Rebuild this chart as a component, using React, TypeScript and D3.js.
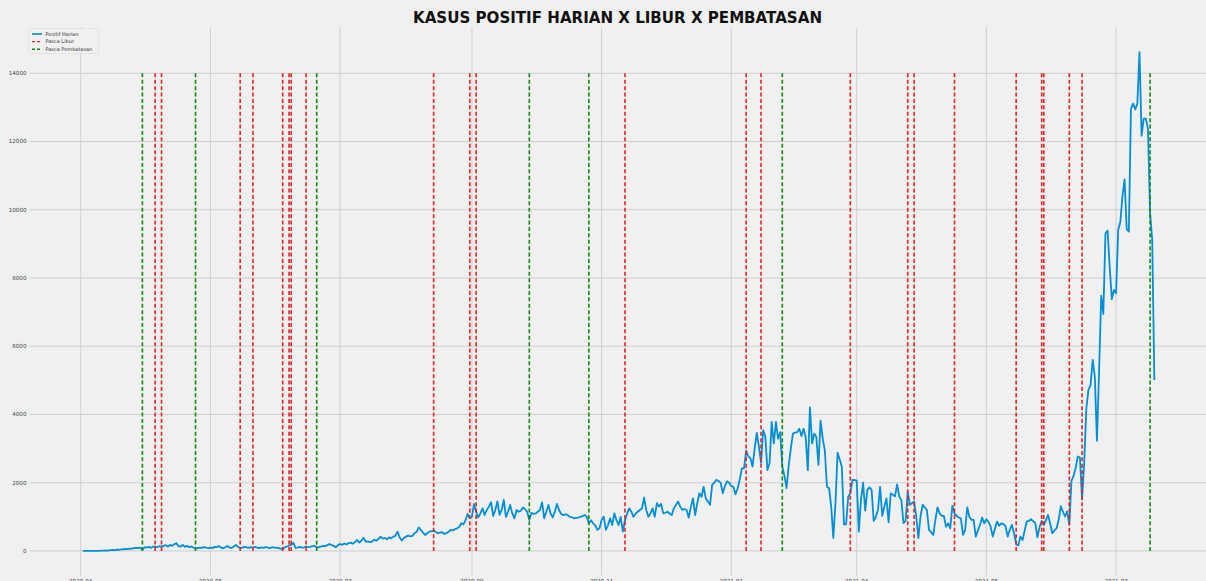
import React from "react";
import * as d3 from "d3";

const W = 1206;
const H = 581;

// Daily positive cases, one array per month
const mar2020 = [0,0,0,0,0,2,0,3,5,8,10,15,12,25,30,20,40,35,45,50,60,55,70,65,80,90,85,95,30,110];
const apr2020 = [100,120,90,130,125,110,140,126,150,170,130,176,150,200,225,140,130,176,120,150,110,130,100,85,80,100,90,110,95,85];
const may2020 = [100,85,120,110,146,95,78,110,146,100,88,130,176,120,78,100,120,107,90,110,95,120,100,85,105,90,115,100,80,110,98];
const jun2020 = [100,85,70,50,110,130,160,180,240,90,100,120,95,107,130,115,120,140,146,110,107,130,150,140,170,204,170,150,107,170];
const jul2020 = [204,180,220,190,230,244,210,260,322,244,300,390,273,280,260,273,330,300,350,420,360,380,342,400,370,420,440,566,400,303,380];
const aug2020 = [420,450,430,440,520,560,693,615,540,469,520,566,580,596,560,520,537,550,498,520,560,615,600,640,664,700,811,780,900,1084,957];
const sep2020 = [1000,1377,1150,986,1100,1250,1055,1200,1300,1427,1025,1200,1455,1055,1200,1494,1000,1150,1348,1100,957,1200,1150,1180,1270,1230,1150,908,1120,1084];
const oct2020 = [1100,1150,1200,1426,957,1150,1348,1100,986,1150,1377,1200,1084,1050,1070,1055,1000,990,957,970,980,1000,1020,1055,1000,811,900,811,750,620,665];
const nov2020 = [908,1005,620,750,957,762,1104,900,762,1000,566,900,1100,1250,1150,1000,1100,1150,1200,1250,1562,1200,1000,1100,1250,1000,1400,1300,1380,1100];
const dec2020 = [1120,1150,1100,1050,1250,1350,1450,1300,1200,1230,1200,975,1300,1540,1050,1400,1690,1590,1880,1540,1450,1350,1935,2000,2085,2050,2000,1690,1900,2040,2000];
const jan2021 = [1900,1880,1660,1840,2100,2420,2420,2940,2770,2720,2475,3000,3460,3050,2580,3540,3370,2370,2570,3780,3150,3780,3290,3480,2475,2200,1840,2500,3000,3440,3470];
const feb2021 = [3480,3580,3370,3580,3340,2370,4210,3150,3440,3340,2520,3820,3300,2950,1880,1840,1300,384,1400,2880,2680,2470,780,780,1590,1690,2085,2080];
const mar2021 = [2060,566,1500,2000,1180,1800,1860,1800,880,1000,1200,1880,1030,1300,1540,840,1690,1650,1600,1950,1600,1490,820,880,1740,1350,1400,1450,1010,372,1010];
const apr2021 = [1350,1280,1200,620,550,470,910,1280,1100,1030,1030,710,810,660,1330,1100,1030,980,950,470,620,1280,1000,910,910,420,600,760,980,810];
const may2021 = [930,850,710,420,650,860,740,810,790,730,420,620,765,520,200,160,420,320,600,865,880,930,870,815,400,700,880,765,900,1055,800];
const jun2021 = [520,600,665,915,1310,1150,1010,1160,765,2050,2200,2440,2770,2740,1510,2590,4170,4720,4860,5600,5110,3230,5260,7480,6940,9310,9390,8320,7380,7650];
const jul2021 = [7550,9410,9650,10400,10890,9430,9360,12960,13110,12940,13110,14620,12170,12670,12670,12370,9900,9110,5010];

// Vertical marker dates
const liburDates = [
  "2020-04-05","2020-04-08","2020-05-15","2020-05-21","2020-06-04","2020-06-07","2020-06-08",
  "2020-06-15","2020-08-14","2020-08-31","2020-09-03","2020-11-12","2021-01-08","2021-01-15",
  "2021-02-26","2021-03-25","2021-03-28","2021-04-16","2021-05-15","2021-05-27","2021-05-28",
  "2021-06-09","2021-06-15",
];
const pembatasanDates = [
  "2020-03-30","2020-04-24","2020-06-20","2020-09-28","2020-10-26","2021-01-25","2021-07-17",
];

const yTicks = [0, 2000, 4000, 6000, 8000, 10000, 12000, 14000];
const xTickDates = ["2020-03-01","2020-05-01","2020-07-01","2020-09-01","2020-11-01","2021-01-01","2021-03-01","2021-05-01","2021-07-01"];
const xTickLabels = ["2020-03","2020-05","2020-07","2020-09","2020-11","2021-01","2021-03","2021-05","2021-07"];

const title = "KASUS POSITIF HARIAN X LIBUR X PEMBATASAN";
const legendLabels = ["Positif Harian", "Pasca Libur", "Pasca Pembatasan"];

const months = [
  { y: 2020, m: 2, start: 2, v: mar2020 },
  { y: 2020, m: 3, start: 1, v: apr2020 },
  { y: 2020, m: 4, start: 1, v: may2020 },
  { y: 2020, m: 5, start: 1, v: jun2020 },
  { y: 2020, m: 6, start: 1, v: jul2020 },
  { y: 2020, m: 7, start: 1, v: aug2020 },
  { y: 2020, m: 8, start: 1, v: sep2020 },
  { y: 2020, m: 9, start: 1, v: oct2020 },
  { y: 2020, m: 10, start: 1, v: nov2020 },
  { y: 2020, m: 11, start: 1, v: dec2020 },
  { y: 2021, m: 0, start: 1, v: jan2021 },
  { y: 2021, m: 1, start: 1, v: feb2021 },
  { y: 2021, m: 2, start: 1, v: mar2021 },
  { y: 2021, m: 3, start: 1, v: apr2021 },
  { y: 2021, m: 4, start: 1, v: may2021 },
  { y: 2021, m: 5, start: 1, v: jun2021 },
  { y: 2021, m: 6, start: 1, v: jul2021 },
];

type Pt = { date: Date; value: number };
const series: Pt[] = [];
months.forEach((mo) => {
  mo.v.forEach((val, i) => {
    series.push({ date: new Date(Date.UTC(mo.y, mo.m, mo.start + i)), value: val });
  });
});

const parse = (s: string) => {
  const [a, b, c] = s.split("-").map(Number);
  return new Date(Date.UTC(a, b - 1, c));
};

const FONT = "DejaVu Sans, sans-serif";

export default function App() {
  const x = d3
    .scaleUtc()
    .domain([new Date(Date.UTC(2020, 1, 6)), new Date(Date.UTC(2021, 7, 13))])
    .range([29.7, 1207.5]);
  const y = d3.scaleLinear().domain([-731, 15351]).range([575.9, 27.2]);

  const line = d3
    .line<Pt>()
    .x((d) => x(d.date))
    .y((d) => y(d.value));

  const [x0, x1] = x.range();
  const [yb, yt] = y.range();

  const vline = (s: string, color: string, key: string) => {
    const xx = x(parse(s));
    return (
      <line
        key={key}
        x1={xx}
        x2={xx}
        y1={y(0)}
        y2={y(14000)}
        stroke={color}
        strokeWidth={1.6}
        strokeDasharray="4,2.4"
      />
    );
  };

  return (
    <svg
      width={W}
      height={H}
      style={{ position: "absolute", left: 0, top: 0, background: "#f0f0f0", display: "block" }}
    >
      <rect x={0} y={0} width={W} height={H} fill="#f0f0f0" />
      {/* grid */}
      {yTicks.map((t) => (
        <line key={"gy" + t} x1={x0} x2={x1} y1={y(t)} y2={y(t)} stroke="#cbcbcb" strokeWidth={0.9} />
      ))}
      {xTickDates.map((t) => (
        <line key={"gx" + t} x1={x(parse(t))} x2={x(parse(t))} y1={yb} y2={yt} stroke="#cbcbcb" strokeWidth={0.9} />
      ))}
      {/* y tick labels */}
      {yTicks.map((t) => (
        <text
          key={"ty" + t}
          x={26.5}
          y={y(t)}
          dy="0.35em"
          textAnchor="end"
          fontSize={5.6}
          fontFamily={FONT}
          fill="#444"
        >
          {t}
        </text>
      ))}
      {/* x tick labels */}
      {xTickDates.map((t, i) => (
        <text
          key={"tx" + t}
          x={x(parse(t))}
          y={583}
          textAnchor="middle"
          fontSize={5.6}
          fontFamily={FONT}
          fill="#444"
        >
          {xTickLabels[i]}
        </text>
      ))}
      {/* data line */}
      <path
        d={line(series) || ""}
        fill="none"
        stroke="#008fd5"
        strokeWidth={1.8}
        strokeLinejoin="round"
      />
      {/* markers */}
      {liburDates.map((d, i) => vline(d, "#e02424", "l" + i))}
      {pembatasanDates.map((d, i) => vline(d, "#0f8a0f", "p" + i))}
      {/* title */}
      <text
        x={617.5}
        y={23}
        textAnchor="middle"
        fontSize={15.5}
        fontWeight="bold"
        fontFamily={FONT}
        fill="#111"
        textLength={409}
        lengthAdjust="spacingAndGlyphs"
      >
        {title}
      </text>
      {/* legend */}
      <g>
        <rect x={28.5} y={28.5} width={70} height={25} fill="#f0f0f0" stroke="#dcdcdc" strokeWidth={0.6} rx={1.5} />
        {legendLabels.map((lab, i) => {
          const ly = 34 + i * 7.6;
          const color = i === 0 ? "#008fd5" : i === 1 ? "#e02424" : "#0f8a0f";
          return (
            <g key={lab}>
              <line
                x1={32}
                x2={42}
                y1={ly}
                y2={ly}
                stroke={color}
                strokeWidth={i === 0 ? 1.6 : 1.4}
                strokeDasharray={i === 0 ? undefined : "3,2"}
              />
              <text x={45.5} y={ly} dy="0.35em" fontSize={5} fontFamily={FONT} fill="#333">
                {lab}
              </text>
            </g>
          );
        })}
      </g>
    </svg>
  );
}
